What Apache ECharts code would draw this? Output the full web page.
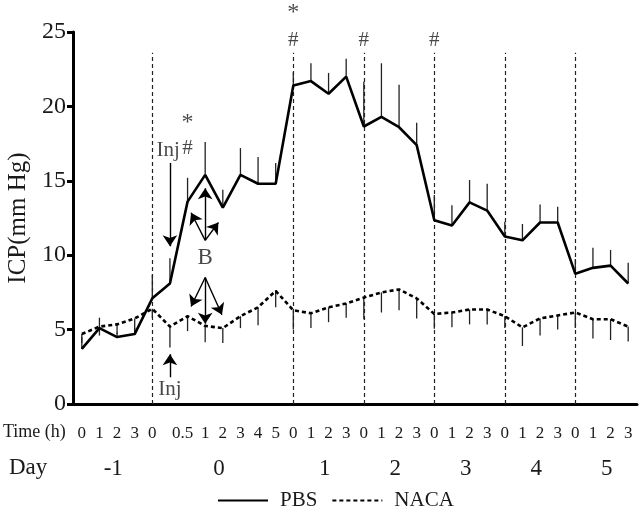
<!DOCTYPE html>
<html><head><meta charset="utf-8">
<script src="https://cdn.jsdelivr.net/npm/echarts@6/dist/echarts.min.js"></script>
<style>html,body{margin:0;padding:0;background:#fff}#c{width:641px;height:520px}</style>
</head><body><div id="c"></div>
<script>
// ---- data ----
const timeLabels = ["0","1","2","3","0","","0.5","1","2","3","4","5","0","1","2","3","0","1","2","3","0","1","2","3","0","1","2","3","0","1","2","3"];
const pbs    = [3.7,5.1,4.5,4.7,7.1,8.1,13.6,15.4,13.2,15.4,14.8,14.8,21.4,21.7,20.85,22.0,18.65,19.3,18.6,17.4,12.35,12.0,13.55,13.0,11.25,11.0,12.2,12.2,8.75,9.15,9.3,8.1];
const pbsErr = [0.8,0.7,0.3,0.4,1.6,1.7,1.6,2.2,1.2,1.8,1.8,1.4,0.9,1.2,1.4,1.2,3.0,3.6,2.85,1.5,1.7,1.35,1.5,1.8,1.0,1.1,1.2,1.05,1.0,1.35,1.05,1.4];
const naca    = [4.7,5.2,5.35,5.75,6.4,5.2,5.9,5.25,5.1,5.9,6.5,7.6,6.3,6.1,6.5,6.75,7.15,7.5,7.7,7.1,6.05,6.15,6.35,6.35,5.9,5.15,5.75,5.95,6.15,5.7,5.7,5.2];
const nacaErr = [0.6,0.6,0.65,0.85,0.6,1.4,1.0,1.1,1.0,0.8,1.2,1.1,1.3,1.0,1.0,0.95,1.45,1.35,1.4,1.35,1.0,1.0,1.0,1.0,0.8,1.25,1.15,0.95,1.05,1.3,1.4,1.0];
const dayLabels = ["-1","0","1","2","3","4","5"];
const dayStart  = [0,4,12,16,20,24,28];
const dayEnd    = [3,11,15,19,23,27,31];
const dayLineIdx = [4,12,16,20,24,28];
const dayLineTop = 23.6;
// annotation texts: [xIndex, yValue, text]
const notes = [
  [6,17.2,"#"],[6,18.9,"*"],
  [12,24.4,"#"],[12,26.3,"*"],
  [16,24.4,"#"],[20,24.4,"#"],
  [4.9,17.05,"Inj"],[7,9.8,"B"],[5,1.0,"Inj"]
];
// annotation arrows: [x1,y1,x2,y2] in (index, value)
const arrows = [
  [5,16.2,5,10.6],
  [7,11.0,6.2,12.85],[7,11.0,7,14.5],[7,11.0,7.75,12.2],
  [7,8.5,6.2,6.55],[7,8.5,7,5.4],[7,8.5,7.95,6.0],
  [5,1.8,5,3.35]
];

const FONT = '"Liberation Serif", "Times New Roman", serif';
const TXT = '#1a1a1a';
const chart = echarts.init(document.getElementById('c'), null, {renderer:'canvas'});

function errItem(vals, errs, dir){
  return function(params, api){
    const i = api.value(0);
    const p0 = api.coord([i, vals[i]]);
    const p1 = api.coord([i, vals[i] + dir*errs[i]]);
    return {type:'line', shape:{x1:p0[0],y1:p0[1],x2:p1[0],y2:p1[1]},
      style:{stroke:'#222', lineWidth:1.3}};
  };
}

const catData = timeLabels.map(t => t === '0.5'
  ? {value:t, textStyle:{padding:[0,10,0,0]}}
  : t);

chart.setOption({
  animation:false,
  backgroundColor:'#fff',
  grid:{left:73, right:4, top:32, bottom:116, containLabel:false, outerBoundsMode:'none'},
  legend:{
    data:['PBS','NACA'], top:485, left:212,
    itemWidth:50, itemHeight:12, itemGap:14,
    itemStyle:{opacity:0},
    textStyle:{fontFamily:FONT, fontSize:21, color:TXT, padding:[0,0,0,7]}
  },
  xAxis:[{
    type:'category', data:catData, boundaryGap:true,
    axisLine:{onZero:false, lineStyle:{color:'#000', width:3}},
    axisTick:{show:false},
    axisLabel:{interval:0, fontFamily:FONT, fontSize:17, color:TXT, margin:21},
    splitLine:{show:false}
  },{
    type:'value', min:-0.5, max:31.5, show:false
  }],
  yAxis:{
    type:'value', min:0, max:25, interval:5,
    name:'ICP(mm Hg)', nameLocation:'middle', nameGap:42,
    nameTextStyle:{fontFamily:FONT, fontSize:25, color:TXT},
    axisLine:{show:true, onZero:false, lineStyle:{color:'#000', width:3}},
    axisTick:{show:true, length:6, lineStyle:{color:'#000', width:3}},
    axisLabel:{fontFamily:FONT, fontSize:24, color:TXT, margin:7},
    splitLine:{show:false}
  },
  series:[
    {name:'PBS', type:'line', data:pbs, symbol:'none', z:5,
     lineStyle:{color:'#000', width:2.6}, itemStyle:{color:'#000'},
     markLine:{silent:true, symbol:'none', label:{show:false},
       lineStyle:{color:'#222', width:1.2, type:[4,3]},
       data: dayLineIdx.map(i=>[{coord:[i,0]},{coord:[i,dayLineTop]}])}
    },
    {name:'NACA', type:'line', data:naca, symbol:'none', z:5,
     lineStyle:{color:'#000', width:2.6, type:[4,3]}, itemStyle:{color:'#000'}},
    {type:'custom', data:pbs.map((v,i)=>[i]), renderItem:errItem(pbs,pbsErr,1), z:4},
    {type:'custom', data:naca.map((v,i)=>[i]), renderItem:errItem(naca,nacaErr,-1), z:4},
    {type:'scatter', xAxisIndex:1, symbolSize:1, itemStyle:{color:'rgba(0,0,0,0)'}, clip:false, silent:true,
     data: notes.map(n=>({value:[n[0],n[1]], label:{show:true, position:'inside', formatter:n[2],
        fontFamily:FONT, fontSize:n[2]==='*'?24:(n[2]==='B'?23:21), color:TXT}}))},
    {type:'lines', coordinateSystem:'cartesian2d', xAxisIndex:1, silent:true,
     symbol:['none','arrow'], symbolSize:11,
     lineStyle:{color:'#000', width:1.4, opacity:1},
     data: arrows.map(a=>({coords:[[a[0],a[1]],[a[2],a[3]]]}))}
  ]
});

const g = [
  {type:'text', left:3, top:423, style:{text:'Time (h)', font:'18px '+FONT, fill:TXT}},
  {type:'text', left:9, top:456, style:{text:'Day', font:'23px '+FONT, fill:TXT}}
];
dayLabels.forEach((d,k)=>{
  const x = (chart.convertToPixel({xAxisIndex:1}, dayStart[k]) + chart.convertToPixel({xAxisIndex:1}, dayEnd[k]))/2 + 5;
  g.push({type:'text', x:x, y:469, style:{text:d, font:'23px '+FONT, fill:TXT, align:'center', verticalAlign:'middle'}});
});
chart.setOption({graphic:g});
</script></body></html>
